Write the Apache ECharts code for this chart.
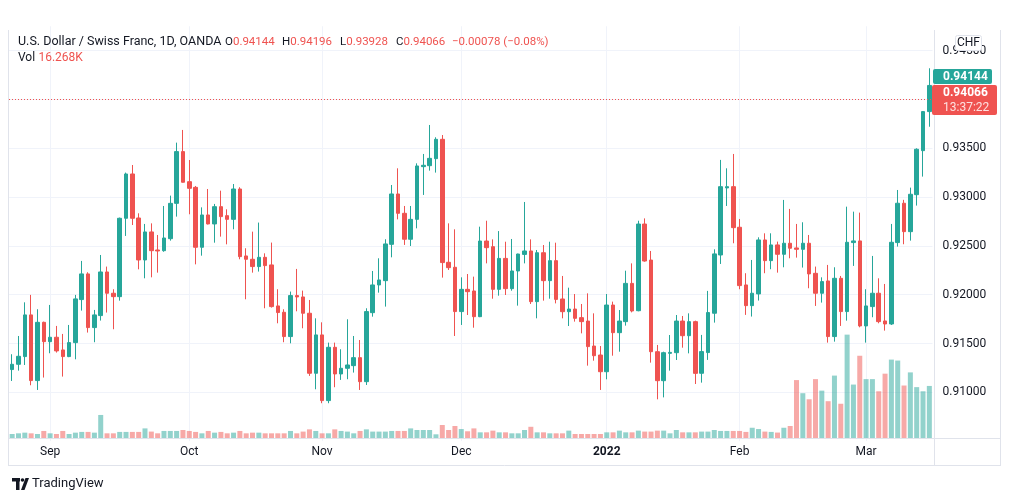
<!DOCTYPE html>
<html>
<head>
<meta charset="utf-8">
<title>USDCHF 1D</title>
<script src="https://cdn.jsdelivr.net/npm/echarts@6.0.0/dist/echarts.min.js"></script>
<style>
  html, body { margin: 0; padding: 0; background: #ffffff; }
  #chart { width: 1012px; height: 501px; }
</style>
</head>
<body>
<div id="chart"></div>
<script>
// trading days shown (OANDA daily, Mon-Fri)
const dates = [
  '2021-08-24','2021-08-25','2021-08-26','2021-08-27','2021-08-30','2021-08-31',
  '2021-09-01','2021-09-02','2021-09-03','2021-09-06','2021-09-07','2021-09-08','2021-09-09','2021-09-10','2021-09-13','2021-09-14','2021-09-15',
  '2021-09-16','2021-09-17','2021-09-20','2021-09-21','2021-09-22','2021-09-23','2021-09-24','2021-09-27','2021-09-28','2021-09-29','2021-09-30',
  '2021-10-01','2021-10-04','2021-10-05','2021-10-06','2021-10-07','2021-10-08','2021-10-11','2021-10-12','2021-10-13','2021-10-14','2021-10-15',
  '2021-10-18','2021-10-19','2021-10-20','2021-10-21','2021-10-22','2021-10-25','2021-10-26','2021-10-27','2021-10-28','2021-10-29',
  '2021-11-01','2021-11-02','2021-11-03','2021-11-04','2021-11-05','2021-11-08','2021-11-09','2021-11-10','2021-11-11','2021-11-12','2021-11-15',
  '2021-11-16','2021-11-17','2021-11-18','2021-11-19','2021-11-22','2021-11-23','2021-11-24','2021-11-25','2021-11-26','2021-11-29','2021-11-30',
  '2021-12-01','2021-12-02','2021-12-03','2021-12-06','2021-12-07','2021-12-08','2021-12-09','2021-12-10','2021-12-13','2021-12-14','2021-12-15',
  '2021-12-16','2021-12-17','2021-12-20','2021-12-21','2021-12-22','2021-12-23','2021-12-24','2021-12-27','2021-12-28','2021-12-29','2021-12-30','2021-12-31',
  '2022-01-03','2022-01-04','2022-01-05','2022-01-06','2022-01-07','2022-01-10','2022-01-11','2022-01-12','2022-01-13','2022-01-14','2022-01-17',
  '2022-01-18','2022-01-19','2022-01-20','2022-01-21','2022-01-24','2022-01-25','2022-01-26','2022-01-27','2022-01-28','2022-01-31',
  '2022-02-01','2022-02-02','2022-02-03','2022-02-04','2022-02-07','2022-02-08','2022-02-09','2022-02-10','2022-02-11','2022-02-14',
  '2022-02-15','2022-02-16','2022-02-17','2022-02-18','2022-02-21','2022-02-22','2022-02-23','2022-02-24','2022-02-25','2022-02-28',
  '2022-03-01','2022-03-02','2022-03-03','2022-03-04','2022-03-07','2022-03-08','2022-03-09','2022-03-10','2022-03-11','2022-03-14','2022-03-15'
];

const opens = [
  0.91233,0.91287,0.91366,0.91793,0.91120,0.91717,0.91519,0.91564,0.91434,0.91366,
  0.91509,0.91950,0.92213,0.91663,0.91786,0.92233,0.92015,0.91980,0.92783,0.93237,
  0.92786,0.92356,0.92643,0.92458,0.92451,0.92574,0.92936,0.93466,0.93158,0.93100,
  0.92486,0.92817,0.92725,0.92902,0.92810,0.92772,0.93083,0.92397,0.92363,0.92288,
  0.92383,0.92305,0.91885,0.91820,0.91571,0.91991,0.91977,0.91810,0.91195,0.91588,
  0.90915,0.91461,0.91188,0.91246,0.91273,0.91355,0.91109,0.91816,0.92100,0.92144,
  0.92516,0.93032,0.92834,0.92568,0.92772,0.93312,0.93322,0.93394,0.93592,0.92332,
  0.92281,0.91827,0.92055,0.92038,0.91775,0.92550,0.92492,0.92055,0.92372,0.92062,
  0.92243,0.92413,0.92448,0.91929,0.92430,0.92144,0.92349,0.91956,0.91826,0.91853,
  0.91765,0.91730,0.91474,0.91382,0.91211,0.91894,0.91611,0.91724,0.92116,0.91836,
  0.92724,0.92355,0.91416,0.91119,0.91399,0.91406,0.91730,0.91580,0.91724,0.91195,
  0.91407,0.91810,0.92407,0.93094,0.93107,0.92691,0.92100,0.91888,0.92008,0.92561,
  0.92349,0.92510,0.92414,0.92527,0.92479,0.92465,0.92527,0.92219,0.92015,0.92141,
  0.91571,0.92168,0.91827,0.92534,0.92551,0.91680,0.91878,0.92015,0.91731,0.91700,
  0.92534,0.92937,0.92646,0.93025,0.93476,0.93876
];
const closes = [
  0.91287,0.91369,0.91793,0.91120,0.91717,0.91519,0.91564,0.91424,0.91366,0.91509,
  0.91957,0.92213,0.91663,0.91793,0.92233,0.92015,0.91980,0.92783,0.93237,0.92783,
  0.92356,0.92643,0.92451,0.92448,0.92581,0.92936,0.93466,0.93152,0.93090,0.92486,
  0.92817,0.92725,0.92902,0.92800,0.92772,0.93083,0.92390,0.92363,0.92288,0.92383,
  0.92298,0.91878,0.91817,0.91571,0.91991,0.91977,0.91810,0.91195,0.91588,0.90915,
  0.91461,0.91188,0.91246,0.91280,0.91355,0.91109,0.91827,0.92100,0.92151,0.92520,
  0.93032,0.92834,0.92568,0.92772,0.93319,0.93326,0.93397,0.93592,0.92329,0.92277,
  0.91827,0.92055,0.92031,0.91775,0.92550,0.92482,0.92055,0.92372,0.92062,0.92243,
  0.92417,0.92448,0.91929,0.92430,0.92144,0.92349,0.91952,0.91826,0.91853,0.91758,
  0.91724,0.91468,0.91375,0.91211,0.91894,0.91611,0.91730,0.92116,0.91833,0.92724,
  0.92345,0.91416,0.91119,0.91406,0.91409,0.91730,0.91580,0.91724,0.91194,0.91417,
  0.91817,0.92418,0.93107,0.93107,0.92687,0.92093,0.91888,0.92015,0.92561,0.92349,
  0.92510,0.92414,0.92527,0.92476,0.92465,0.92527,0.92213,0.92015,0.92134,0.91571,
  0.92168,0.91827,0.92537,0.92551,0.91680,0.91885,0.92015,0.91724,0.91700,0.92537,
  0.92937,0.92646,0.93029,0.93490,0.93876,0.94144
];
const lows = [
  0.91116,0.91222,0.91280,0.91072,0.91024,0.91151,0.91400,0.91407,0.91161,0.91360,
  0.91338,0.91837,0.91612,0.91513,0.91735,0.91817,0.91646,0.91939,0.92602,0.92714,
  0.92260,0.92168,0.92178,0.92226,0.92440,0.92554,0.92800,0.93150,0.92824,0.92311,
  0.92400,0.92720,0.92533,0.92595,0.92516,0.92670,0.92363,0.91953,0.92226,0.92237,
  0.91861,0.91868,0.91707,0.91513,0.91502,0.91830,0.91656,0.91168,0.91031,0.90888,
  0.90888,0.91052,0.91127,0.91134,0.91202,0.91024,0.91075,0.91775,0.92021,0.91878,
  0.92383,0.92772,0.92510,0.92499,0.92680,0.93022,0.93271,0.93251,0.92175,0.92253,
  0.91577,0.91690,0.91792,0.91662,0.91770,0.92321,0.91959,0.91990,0.91997,0.92041,
  0.91888,0.92321,0.91905,0.91758,0.91939,0.91959,0.91911,0.91758,0.91679,0.91724,
  0.91604,0.91273,0.91324,0.91024,0.91133,0.91375,0.91416,0.91683,0.91819,0.91830,
  0.92338,0.91304,0.90928,0.90948,0.91222,0.91331,0.91457,0.91399,0.91085,0.91099,
  0.91332,0.91714,0.92315,0.92909,0.92527,0.92056,0.91793,0.91776,0.91940,0.92220,
  0.92261,0.92226,0.92281,0.92373,0.92380,0.92278,0.92066,0.91885,0.91919,0.91509,
  0.91519,0.91680,0.91734,0.92295,0.91666,0.91509,0.91769,0.91707,0.91632,0.91690,
  0.92493,0.92517,0.92554,0.92913,0.93210,0.93721
];
const highs = [
  0.91390,0.91577,0.91922,0.91998,0.91851,0.91724,0.91895,0.91680,0.91598,0.91690,
  0.91998,0.92346,0.92230,0.91844,0.92407,0.92288,0.92056,0.92790,0.93251,0.93329,
  0.92834,0.92725,0.92731,0.92612,0.92909,0.93015,0.93558,0.93688,0.93380,0.93114,
  0.92895,0.93083,0.92930,0.93066,0.92875,0.93134,0.93101,0.92476,0.92646,0.92739,
  0.92424,0.92534,0.92056,0.91851,0.92032,0.92264,0.92042,0.91946,0.91758,0.91717,
  0.91509,0.91509,0.91441,0.91748,0.91577,0.91536,0.91861,0.92243,0.92373,0.92568,
  0.93124,0.93295,0.92909,0.92909,0.93346,0.93442,0.93739,0.93613,0.93636,0.92731,
  0.92670,0.92178,0.92212,0.92185,0.92697,0.92758,0.92567,0.92652,0.92543,0.92571,
  0.92420,0.92950,0.92567,0.92458,0.92509,0.92543,0.92533,0.92192,0.92072,0.92007,
  0.91905,0.92014,0.91809,0.91474,0.92007,0.91929,0.91843,0.92246,0.92321,0.92758,
  0.92782,0.92448,0.91485,0.91416,0.91587,0.91792,0.91782,0.91809,0.91734,0.91588,
  0.92039,0.92465,0.93381,0.93295,0.93442,0.92776,0.92220,0.92356,0.92588,0.92629,
  0.92629,0.92544,0.92971,0.92879,0.92725,0.92742,0.92612,0.92288,0.92178,0.92305,
  0.92281,0.92192,0.92902,0.92851,0.92841,0.92056,0.92397,0.92168,0.92110,0.92725,
  0.93073,0.92972,0.93097,0.93500,0.93882,0.94320
];
const volumes = [
  1250,1460,1670,1460,1250,2200,1460,1250,2200,1250,
  1670,1900,1900,1670,7200,1460,1460,1900,1900,1900,
  1900,3000,2000,1460,2200,2200,2200,2500,2200,1900,
  1460,2200,1670,1900,1460,1670,2200,1460,1670,1670,
  1460,1460,1460,1460,2200,1460,2000,2700,2200,1460,
  1460,2700,2200,2000,1460,2200,2700,2000,2000,2000,
  2200,2200,2200,3000,2500,2500,2500,1150,4060,2500,
  3750,2800,2100,3000,1770,1770,2300,1770,1770,1460,
  1460,2500,3500,1770,1770,1460,1460,1460,2300,1250,
  1250,1250,1250,1250,1770,1770,2300,1770,1770,2300,
  2000,2000,2300,2300,1460,2500,1770,1770,1770,2000,
  2000,2500,2200,2200,2200,2200,1900,3200,2800,2000,
  1900,1700,3200,3750,18100,14000,12100,18400,14800,11500,
  19500,10700,32300,16700,25700,18400,18400,14600,20100,24500,
  24200,16400,20500,15900,14600,16268
];

// time axis labels
const tickDates = ['2021-09-01','2021-10-01','2021-11-01','2021-12-01','2022-01-03','2022-02-01','2022-03-01'];
const tickLabels = ['Sep','Oct','Nov','Dec','2022','Feb','Mar'];

// last quote shown in the legend and price scale
const symbolTitle = 'U.S. Dollar / Swiss Franc, 1D, OANDA';
const lastOpen = '0.94144', lastHigh = '0.94196', lastLow = '0.93928', lastClose = '0.94066';
const lastChange = '\u22120.00078 (\u22120.08%)';
const lastVolume = '16.268K';
const lastPrice = 0.94066;
const prevClose = 0.94144;
const countdown = '13:37:22';

const upColor = '#26a69a';
const downColor = '#ef5350';
const gridColor = '#f0f3fa';
const borderColor = '#e0e3eb';
const textColor = '#131722';
const font = 'Roboto, "Noto Sans", sans-serif';

const chart = echarts.init(document.getElementById('chart'), null, { renderer: 'canvas' });

const candleData = dates.map((d, i) => [opens[i], closes[i], lows[i], highs[i]]);
const volData = volumes.map((v, i) => ({
  value: v,
  itemStyle: { color: closes[i] >= opens[i] ? 'rgba(38,166,154,0.5)' : 'rgba(239,83,80,0.5)' }
}));

const isTick = (i, v) => tickDates.indexOf(v) >= 0;

const option = {
  animation: false,
  backgroundColor: '#ffffff',
  textStyle: { fontFamily: font },
  grid: [
    { left: 9, right: 79.5, top: 26.3, bottom: 59.9 },
    { left: 9, right: 79.5, top: 310, bottom: 63 }
  ],
  xAxis: [
    {
      type: 'category', gridIndex: 0, data: dates,
      axisLine: { show: false }, axisTick: { show: false }, axisLabel: { show: false },
      splitLine: { show: true, alignWithLabel: true, interval: isTick, lineStyle: { color: gridColor, width: 1 } }
    },
    {
      type: 'category', gridIndex: 1, data: dates,
      axisLine: { show: false }, axisTick: { show: false },
      splitLine: { show: false },
      axisLabel: {
        interval: isTick,
        color: textColor, fontSize: 12, margin: 8, fontFamily: font,
        formatter: function (v) {
          const lab = tickLabels[tickDates.indexOf(v)];
          return lab === '2022' ? '{y|' + lab + '}' : lab;
        },
        rich: { y: { fontWeight: 'bold', color: textColor, fontSize: 12, fontFamily: font } }
      }
    }
  ],
  yAxis: [
    {
      type: 'value', gridIndex: 0, position: 'right',
      min: 0.905, max: 0.9475, interval: 0.005,
      axisLine: { show: false }, axisTick: { show: false },
      axisLabel: {
        color: textColor, fontSize: 12, margin: 10, fontFamily: font,
        showMinLabel: false, showMaxLabel: false,
        formatter: v => v.toFixed(5)
      },
      splitLine: { show: true, showMinLine: false, showMaxLine: false, lineStyle: { color: gridColor, width: 1 } }
    },
    { type: 'value', gridIndex: 1, min: 0, max: 40000, show: false, splitLine: { show: false } }
  ],
  series: [
    {
      name: 'Vol', type: 'bar', xAxisIndex: 1, yAxisIndex: 1,
      data: volData, barWidth: 5, silent: true
    },
    {
      name: 'USDCHF', type: 'candlestick', xAxisIndex: 0, yAxisIndex: 0,
      data: candleData, barWidth: 4,
      itemStyle: { color: upColor, color0: downColor, borderColor: upColor, borderColor0: downColor, borderWidth: 1 },
      markLine: {
        silent: true, symbol: 'none', label: { show: false },
        lineStyle: { color: downColor, type: [1, 2], width: 1 },
        data: [{ yAxis: lastPrice }]
      }
    }
  ]
};
chart.setOption(option);

// price labels, legend, frame
const yLast = chart.convertToPixel({ yAxisIndex: 0 }, lastPrice);
const redTop = Math.round(yLast) - 8;
const tealTop = redTop - 16;

function legendGroup(x, key, val) {
  return {
    type: 'text', x: x, y: 42, z: 100,
    style: {
      text: '{k|' + key + '}{v|' + val + '}',
      verticalAlign: 'middle',
      rich: {
        k: { fill: textColor, fontSize: 11.5, fontFamily: font },
        v: { fill: downColor, fontSize: 11.5, fontFamily: font }
      }
    }
  };
}

const lineStyle = { stroke: borderColor, lineWidth: 1 };
chart.setOption({
  graphic: [
    // frame
    { type: 'line', z: 90, shape: { x1: 8.5, y1: 30, x2: 8.5, y2: 465 }, style: lineStyle },
    { type: 'line', z: 90, shape: { x1: 1000.5, y1: 30, x2: 1000.5, y2: 465 }, style: lineStyle },
    { type: 'line', z: 90, shape: { x1: 8, y1: 465.5, x2: 1001, y2: 465.5 }, style: lineStyle },
    { type: 'line', z: 90, shape: { x1: 8, y1: 438.5, x2: 1001, y2: 438.5 }, style: lineStyle },
    { type: 'line', z: 90, shape: { x1: 934.5, y1: 30, x2: 934.5, y2: 465 }, style: lineStyle },
    // legend
    { type: 'text', x: 18, y: 42, z: 100, style: { text: symbolTitle, fill: textColor, fontSize: 12.5, fontFamily: font, verticalAlign: 'middle' } },
    legendGroup(225, 'O', lastOpen),
    legendGroup(282, 'H', lastHigh),
    legendGroup(340, 'L', lastLow),
    legendGroup(396, 'C', lastClose),
    { type: 'text', x: 452, y: 42, z: 100, style: { text: lastChange, fill: downColor, fontSize: 11.5, fontFamily: font, verticalAlign: 'middle' } },
    {
      type: 'text', x: 18, y: 58, z: 100,
      style: {
        text: '{k|Vol} {v|' + lastVolume + '}', verticalAlign: 'middle',
        rich: { k: { fill: textColor, fontSize: 12, fontFamily: font }, v: { fill: downColor, fontSize: 12, fontFamily: font } }
      }
    },
    // currency box
    { type: 'rect', z: 100, shape: { x: 955.5, y: 35.5, width: 26, height: 15, r: 2 }, style: { fill: '#ffffff', stroke: borderColor, lineWidth: 1 } },
    { type: 'text', x: 968.5, y: 43, z: 101, style: { text: 'CHF', fill: textColor, fontSize: 12, fontFamily: font, align: 'center', verticalAlign: 'middle' } },
    // previous close label
    { type: 'rect', z: 100, shape: { x: 933, y: tealTop, width: 59, height: 15, r: 2 }, style: { fill: upColor } },
    { type: 'text', x: 943, y: tealTop + 7.5, z: 101, style: { text: prevClose.toFixed(5), fill: '#ffffff', fontSize: 12, fontWeight: 'bold', fontFamily: font, verticalAlign: 'middle' } },
    // last price + countdown label
    { type: 'rect', z: 100, shape: { x: 932, y: redTop, width: 65, height: 30, r: 2 }, style: { fill: downColor } },
    { type: 'text', x: 943, y: redTop + 8, z: 101, style: { text: lastPrice.toFixed(5), fill: '#ffffff', fontSize: 12, fontWeight: 'bold', fontFamily: font, verticalAlign: 'middle' } },
    { type: 'text', x: 943, y: redTop + 23, z: 101, style: { text: countdown, fill: '#fde0df', fontSize: 12, fontFamily: font, verticalAlign: 'middle' } },
    // TradingView logo
    { type: 'rect', z: 100, shape: { x: 12, y: 478, width: 8, height: 3.5 }, style: { fill: textColor } },
    { type: 'rect', z: 100, shape: { x: 16, y: 478, width: 3.5, height: 12 }, style: { fill: textColor } },
    { type: 'circle', z: 100, shape: { cx: 22.5, cy: 480, r: 1.8 }, style: { fill: textColor } },
    { type: 'polygon', z: 100, shape: { points: [[21, 490], [24.5, 490], [29, 478], [25.5, 478]] }, style: { fill: textColor } },
    { type: 'text', x: 32, y: 484, z: 100, style: { text: 'TradingView', fill: textColor, fontSize: 13, fontFamily: font, verticalAlign: 'middle' } }
  ]
});
</script>
</body>
</html>
